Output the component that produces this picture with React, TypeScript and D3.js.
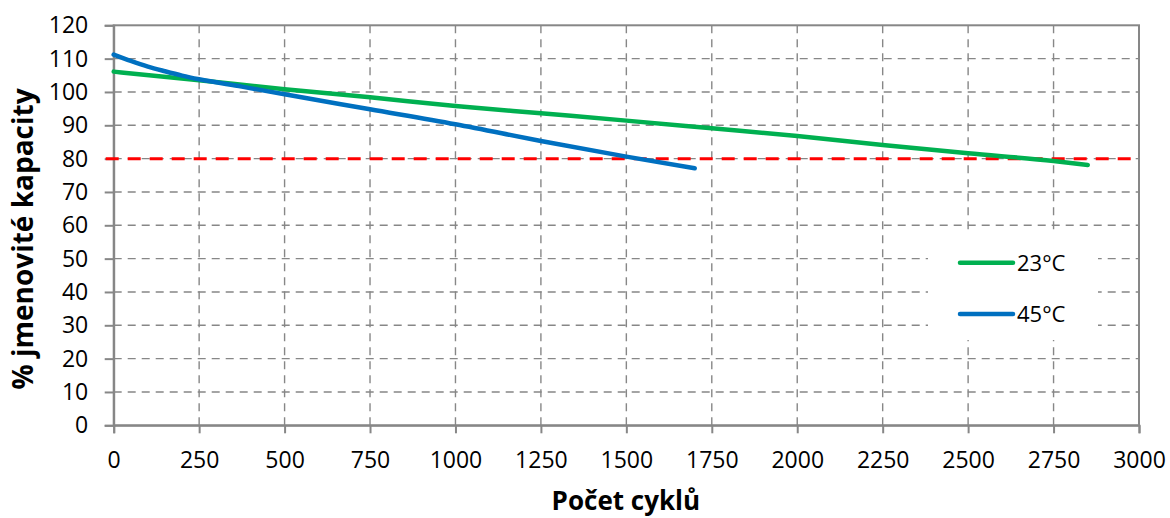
import React, { useEffect, useRef } from 'react';
import * as d3 from 'd3';

// cycles vs % of nominal capacity
const cycles23 = [0, 250, 500, 750, 1000, 1250, 1500, 1750, 2000, 2250, 2500, 2750, 2850];
const capacity23 = [106.1, 103.5, 100.8, 98.4, 95.8, 93.6, 91.4, 89.1, 86.8, 84.1, 81.6, 79.3, 78.1];

const cycles45 = [0, 50, 100, 150, 200, 250, 375, 500, 750, 1000, 1250, 1500, 1700];
const capacity45 = [111.2, 109.3, 107.6, 106.2, 104.9, 103.8, 101.6, 99.3, 94.8, 90.3, 85.3, 80.6, 77.1];

const xTicks = d3.range(0, 3001, 250);
const yTicks = d3.range(0, 121, 10);
const limitValue = 80;

const seriesNames = ['23°C', '45°C'];
const seriesColors = ['#00b050', '#0070c0'];

const W = 1170;
const H = 518;
const margin = { top: 25.3, right: 31, bottom: 92.7, left: 113.7 };

const App: React.FC = () => {
  const svgRef = useRef<SVGSVGElement>(null);

  useEffect(() => {
    if (!svgRef.current) return;
    const svg = d3.select(svgRef.current);
    svg.selectAll('*').remove();

    const width = W - margin.left - margin.right;
    const height = H - margin.top - margin.bottom;

    const x = d3.scaleLinear().domain([0, 3000]).range([margin.left, margin.left + width]);
    const y = d3.scaleLinear().domain([0, 120]).range([margin.top + height, margin.top]);

    const grey = '#878787';
    const font = '"Open Sans", sans-serif';

    // grid
    const grid = svg.append('g').attr('stroke', grey).attr('stroke-width', 1.4).attr('stroke-dasharray', '8,6');
    grid.selectAll('.hg')
      .data(yTicks.filter(t => t > 0 && t < 120))
      .enter()
      .append('line')
      .attr('x1', x(0)).attr('x2', x(3000))
      .attr('y1', d => y(d)).attr('y2', d => y(d));
    grid.selectAll('.vg')
      .data(xTicks.filter(t => t > 0 && t < 3000))
      .enter()
      .append('line')
      .attr('y1', y(0)).attr('y2', y(120))
      .attr('x1', d => x(d)).attr('x2', d => x(d));

    // plot border
    svg.append('rect')
      .attr('x', x(0)).attr('y', y(120))
      .attr('width', x(3000) - x(0)).attr('height', y(0) - y(120))
      .attr('fill', 'none').attr('stroke', grey).attr('stroke-width', 2);

    // axes
    const yAxis = svg.append('g')
      .attr('transform', `translate(${x(0)},0)`)
      .call(d3.axisLeft(y).tickValues(yTicks).tickSize(9).tickPadding(16.5).tickFormat(d3.format('d')));
    const xAxis = svg.append('g')
      .attr('transform', `translate(0,${y(0)})`)
      .call(d3.axisBottom(x).tickValues(xTicks).tickSize(8).tickPadding(18).tickFormat(d3.format('d')));
    [yAxis, xAxis].forEach(a => {
      a.select('.domain').attr('stroke', grey).attr('stroke-width', 2);
      a.selectAll('.tick line').attr('stroke', grey).attr('stroke-width', 2);
      a.selectAll('.tick text')
        .attr('fill', '#000')
        .style('font-family', font)
        .style('font-size', '23px');
    });

    // 80 % limit
    svg.append('line')
      .attr('x1', x(0) - 8).attr('x2', x(3000))
      .attr('y1', y(limitValue)).attr('y2', y(limitValue))
      .attr('stroke', '#ff0000').attr('stroke-width', 3)
      .attr('stroke-dasharray', '13,9');

    // series
    const line = d3.line<[number, number]>()
      .x(d => x(d[0]))
      .y(d => y(d[1]))
      .curve(d3.curveMonotoneX);

    const series = [
      cycles23.map((c, i) => [c, capacity23[i]] as [number, number]),
      cycles45.map((c, i) => [c, capacity45[i]] as [number, number]),
    ];
    series.forEach((s, i) => {
      svg.append('path')
        .datum(s)
        .attr('fill', 'none')
        .attr('stroke', seriesColors[i])
        .attr('stroke-width', 4.5)
        .attr('stroke-linecap', 'round')
        .attr('d', line);
    });

    // legend
    const legend = svg.append('g');
    legend.append('rect')
      .attr('x', 928).attr('y', 235).attr('width', 170).attr('height', 105)
      .attr('fill', '#fff');
    seriesNames.forEach((name, i) => {
      const ly = 262.7 + i * 51.3;
      legend.append('line')
        .attr('x1', 960).attr('x2', 1013).attr('y1', ly).attr('y2', ly)
        .attr('stroke', seriesColors[i]).attr('stroke-width', 4.5)
        .attr('stroke-linecap', 'round');
      legend.append('text')
        .attr('x', 1017).attr('y', ly).attr('dy', '0.36em')
        .style('font-family', font).style('font-size', '22px')
        .text(name);
    });

    // axis titles
    svg.append('text')
      .attr('x', (x(0) + x(3000)) / 2 - 0.5).attr('y', 510)
      .attr('text-anchor', 'middle')
      .style('font-family', font).style('font-size', '26px').style('font-weight', 700)
      .text('Počet cyklů');
    svg.append('text')
      .attr('transform', 'translate(33,239) rotate(-90)')
      .attr('text-anchor', 'middle')
      .style('font-family', font).style('font-size', '28px').style('font-weight', 700)
      .text('% jmenovité kapacity');
  }, []);

  return (
    <svg
      ref={svgRef}
      width={W}
      height={H}
      style={{ position: 'absolute', left: 0, top: 0, background: '#fff' }}
    />
  );
};

export default App;
